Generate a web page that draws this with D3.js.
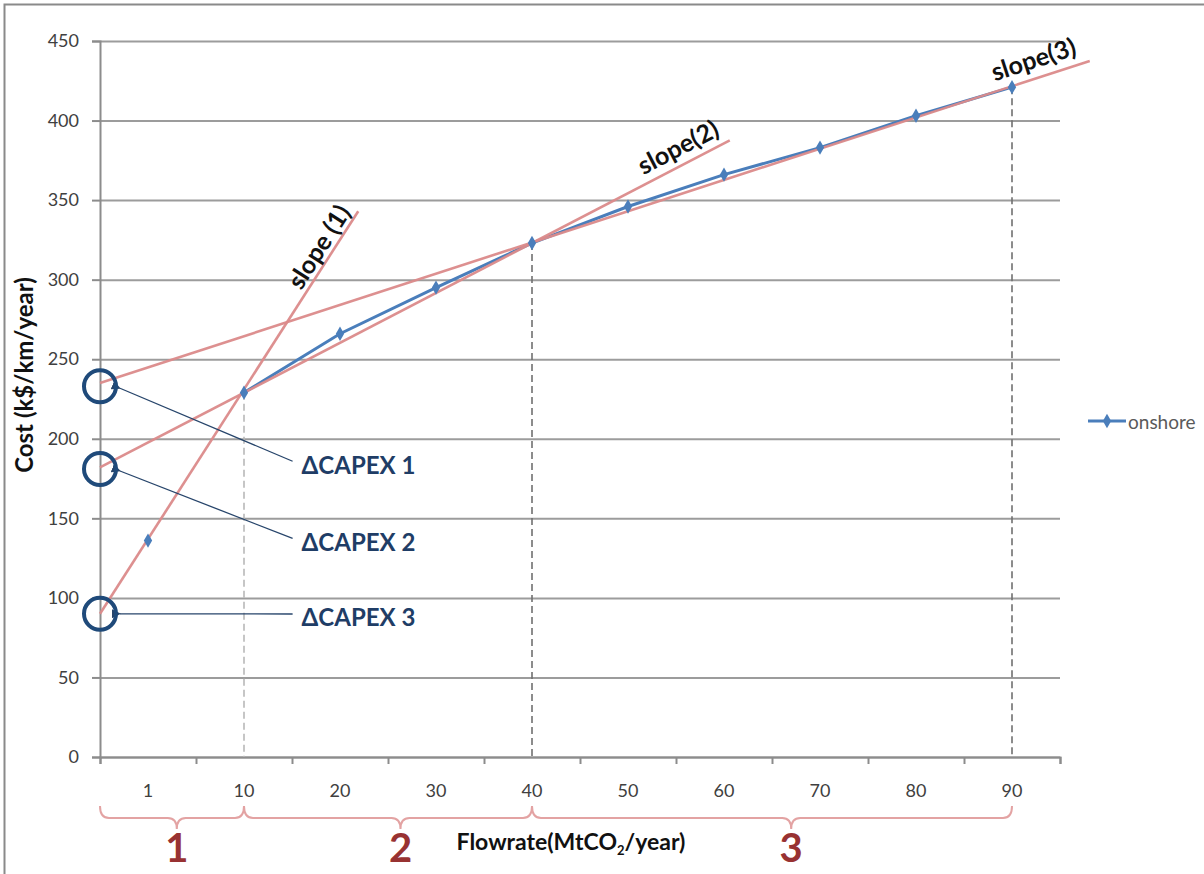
<!DOCTYPE html>
<html>
<head>
<meta charset="utf-8">
<script src="https://cdn.jsdelivr.net/npm/d3@7"></script>
<style>
  body { margin: 0; background: #fff; }
  svg { font-family: Lato, "Open Sans", sans-serif; }
</style>
</head>
<body>
<div id="chart"></div>
<script>
// chart values
var categories = ["1", "10", "20", "30", "40", "50", "60", "70", "80", "90"];
var onshore = [136, 229, 266, 295, 323, 346, 366, 383, 403, 421];
var yTicks = [0, 50, 100, 150, 200, 250, 300, 350, 400, 450];

// tangent lines, in category units (0 = left edge of plot) and cost values
var slopeNames = ["slope (1)", "slope(2)", "slope(3)"];
var slopeStart = [[0, 90], [0, 182], [0, 235]];
var slopeEnd = [[2.69, 343], [6.56, 387.5], [10.31, 437.5]];

// intercept circles + their labels
var capexNames = ["\u0394CAPEX 1", "\u0394CAPEX 2", "\u0394CAPEX 3"];
var capexValues = [233, 181, 90];
var capexLabelValues = [184, 135.5, 88];

// vertical guides drop from these categories
var guideIdx = [1, 4, 9];

// regions under the x axis
var regionNames = ["1", "2", "3"];
var regionEdges = [[0, 1.5], [1.5, 4.5], [4.5, 9.5]];
var regionMid = [0.8, 3.13, 7.2];

var svgWidth = 1204;
var svgHeight = 874;
var margin = { top: 41, right: 144, bottom: 117, left: 100 };
var plotWidth = svgWidth - margin.left - margin.right;
var plotHeight = svgHeight - margin.top - margin.bottom;

var svg = d3.select("#chart")
  .append("svg")
  .attr("width", svgWidth)
  .attr("height", svgHeight);

// outer frame (right / bottom run off the picture)
svg.append("rect")
  .attr("x", 4.5).attr("y", 4.5)
  .attr("width", 1220).attr("height", 900)
  .attr("fill", "none")
  .attr("stroke", "#8a8a8a")
  .attr("stroke-width", 2);

var g = svg.append("g")
  .attr("transform", `translate(${margin.left}, ${margin.top})`);

var xBand = d3.scaleBand().domain(categories).range([0, plotWidth]);
var xPos = d3.scaleLinear().domain([0, categories.length]).range([0, plotWidth]);
var yScale = d3.scaleLinear().domain([0, 450]).range([plotHeight, 0]);
var xMid = i => xPos(i + 0.5);

// gridlines
g.append("g")
  .call(d3.axisLeft(yScale).tickValues(yTicks).tickSize(-plotWidth).tickFormat(""))
  .call(s => s.select(".domain").remove())
  .selectAll("line")
  .attr("stroke", "#9c9c9c")
  .attr("stroke-width", 2);

// y axis
var yAxis = g.append("g")
  .call(d3.axisLeft(yScale).tickValues(yTicks).tickSize(8).tickPadding(13));
yAxis.select(".domain").attr("stroke", "#8c8c8c").attr("stroke-width", 2);
yAxis.selectAll("line").attr("stroke", "#8c8c8c").attr("stroke-width", 2);
yAxis.selectAll("text")
  .attr("font-size", "18px")
  .attr("fill", "#404040")
  .attr("font-family", "Lato, sans-serif");

// x axis: tick marks on category edges, labels on centres
var xTicks = g.append("g")
  .attr("transform", `translate(0, ${plotHeight})`)
  .call(d3.axisBottom(xPos).tickValues(d3.range(categories.length + 1)).tickSize(7).tickFormat(""));
xTicks.select(".domain").attr("stroke", "#8c8c8c").attr("stroke-width", 2);
xTicks.selectAll("line").attr("stroke", "#8c8c8c").attr("stroke-width", 2);

var xLabels = g.append("g")
  .attr("transform", `translate(0, ${plotHeight})`)
  .call(d3.axisBottom(xBand).tickSize(0).tickPadding(27));
xLabels.select(".domain").remove();
xLabels.selectAll("text")
  .attr("font-size", "18px")
  .attr("fill", "#404040")
  .attr("font-family", "Lato, sans-serif");

// dashed guides
g.selectAll(".guide")
  .data(guideIdx)
  .enter()
  .append("line")
  .attr("x1", d => xMid(d)).attr("x2", d => xMid(d))
  .attr("y1", d => yScale(onshore[d])).attr("y2", yScale(0))
  .attr("stroke", (d, i) => i == 0 ? "#b8b8b8" : "#707070")
  .attr("stroke-width", 1.6)
  .attr("stroke-dasharray", "7,4");

// onshore series (the 1 -> 10 segment is not drawn in the original)
var line = d3.line()
  .defined((d, i) => i > 0)
  .x((d, i) => xMid(i))
  .y(d => yScale(d));

g.append("path")
  .datum(onshore)
  .attr("d", line)
  .attr("fill", "none")
  .attr("stroke", "#4a7ebb")
  .attr("stroke-width", 3);

// tangent lines (drawn above the series, like the picture)
g.selectAll(".slope")
  .data(slopeNames)
  .enter()
  .append("line")
  .attr("x1", (d, i) => xPos(slopeStart[i][0]))
  .attr("y1", (d, i) => yScale(slopeStart[i][1]))
  .attr("x2", (d, i) => xPos(slopeEnd[i][0]))
  .attr("y2", (d, i) => yScale(slopeEnd[i][1]))
  .attr("stroke", "#dc8b8b")
  .attr("stroke-width", 2.6)
  .attr("opacity", 0.95);

var diamond = d3.symbol().type(d3.symbolDiamond).size(60);
g.selectAll(".pt")
  .data(onshore)
  .enter()
  .append("path")
  .attr("d", diamond)
  .attr("transform", (d, i) => `translate(${xMid(i)}, ${yScale(d)})`)
  .attr("fill", "#4a7ebb");

// slope labels: placed at a fraction along each line, lifted off it
var labelT = [0.893, 0.931, 0.949];
var labelLift = [15, 19, 20];
g.selectAll(".slopeLabel")
  .data(slopeNames)
  .enter()
  .append("text")
  .attr("transform", function(d, i) {
    var x0 = xPos(slopeStart[i][0]), y0 = yScale(slopeStart[i][1]);
    var x1 = xPos(slopeEnd[i][0]), y1 = yScale(slopeEnd[i][1]);
    var ang = Math.atan2(y1 - y0, x1 - x0) * 180 / Math.PI;
    var t = labelT[i];
    return `translate(${x0 + (x1 - x0) * t}, ${y0 + (y1 - y0) * t}) rotate(${ang})`;
  })
  .attr("text-anchor", "middle")
  .attr("dominant-baseline", "central")
  .attr("dy", (d, i) => -labelLift[i])
  .attr("font-size", "25px")
  .attr("font-weight", "bold")
  .attr("fill", "#111")
  .text(d => d);

// arrow marker
svg.append("defs").append("marker")
  .attr("id", "arr")
  .attr("viewBox", "0 0 10 10")
  .attr("refX", 1).attr("refY", 5)
  .attr("markerWidth", 7).attr("markerHeight", 7)
  .attr("orient", "auto-start-reverse")
  .append("path")
  .attr("d", "M0,5 L10,0 L10,10 Z")
  .attr("fill", "#27456b");

var labelX = 2.1;
g.selectAll(".capexArrow")
  .data(capexNames)
  .enter()
  .append("line")
  .attr("x1", (d, i) => xPos(0) + 20)
  .attr("y1", (d, i) => yScale(capexValues[i]) + (i == 2 ? 0 : 2))
  .attr("x2", xPos(labelX) - 9)
  .attr("y2", (d, i) => yScale(capexLabelValues[i]) - 3)
  .attr("stroke", "#27456b")
  .attr("stroke-width", 1.3)
  .attr("marker-start", "url(#arr)");

g.selectAll(".capexCircle")
  .data(capexValues)
  .enter()
  .append("circle")
  .attr("cx", xPos(0))
  .attr("cy", d => yScale(d))
  .attr("r", 16)
  .attr("fill", "none")
  .attr("stroke", "#1f4a7a")
  .attr("stroke-width", 4);

g.selectAll(".capexLabel")
  .data(capexNames)
  .enter()
  .append("text")
  .attr("x", xPos(labelX))
  .attr("y", (d, i) => yScale(capexLabelValues[i]))
  .attr("dominant-baseline", "central")
  .attr("font-size", "24px")
  .attr("font-weight", "bold")
  .attr("fill", "#1f3d66")
  .text(d => d);

// braces under the axis
var braceTop = plotHeight + 49, braceMid = plotHeight + 61, braceLow = plotHeight + 72;
g.selectAll(".brace")
  .data(regionEdges)
  .enter()
  .append("path")
  .attr("d", function(d, i) {
    var a = xPos(d[0]), b = xPos(d[1]), m = xPos(regionMid[i]);
    return `M${a},${braceTop} Q${a},${braceMid} ${a + 9},${braceMid} L${m - 9},${braceMid}` +
      ` Q${m},${braceMid} ${m},${braceLow} Q${m},${braceMid} ${m + 9},${braceMid}` +
      ` L${b - 9},${braceMid} Q${b},${braceMid} ${b},${braceTop}`;
  })
  .attr("fill", "none")
  .attr("stroke", "#e3a3a3")
  .attr("stroke-width", 2);

g.selectAll(".region")
  .data(regionNames)
  .enter()
  .append("text")
  .attr("x", (d, i) => xPos(regionMid[i]))
  .attr("y", plotHeight + 105)
  .attr("text-anchor", "middle")
  .attr("font-size", "40px")
  .attr("font-weight", "bold")
  .attr("fill", "#983232")
  .text(d => d);

// axis titles
var xTitle = g.append("text")
  .attr("x", 471)
  .attr("y", plotHeight + 93)
  .attr("text-anchor", "middle")
  .attr("font-size", "23px")
  .attr("font-weight", "bold")
  .attr("fill", "#111");
xTitle.append("tspan").text("Flowrate(MtCO");
xTitle.append("tspan").attr("font-size", "13px").attr("dy", 5).text("2");
xTitle.append("tspan").attr("dy", -5).text("/year)");

g.append("text")
  .attr("transform", `translate(${-67}, ${375 - margin.top}) rotate(-90)`)
  .attr("text-anchor", "middle")
  .attr("font-size", "24px")
  .attr("font-weight", "bold")
  .attr("fill", "#111")
  .text("Cost (k$/km/year)");

// legend
var legend = svg.append("g")
  .attr("transform", "translate(1088, 421)");
legend.append("line")
  .attr("x1", 0).attr("x2", 38)
  .attr("stroke", "#4a7ebb").attr("stroke-width", 3);
legend.append("path")
  .attr("d", diamond)
  .attr("transform", "translate(19, 0)")
  .attr("fill", "#4a7ebb");
legend.append("text")
  .attr("x", 40)
  .attr("dominant-baseline", "central")
  .attr("font-size", "19px")
  .attr("fill", "#5a5a5a")
  .text("onshore");
</script>
</body>
</html>
